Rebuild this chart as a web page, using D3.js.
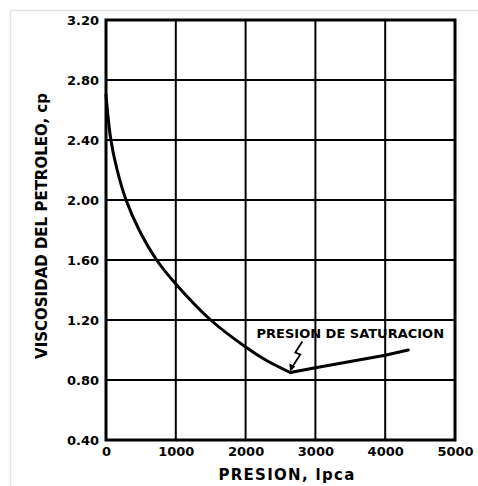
<!DOCTYPE html>
<html>
<head>
<meta charset="utf-8">
<script src="https://cdn.jsdelivr.net/npm/d3@7"></script>
<style>
  html, body { margin: 0; padding: 0; background: #fff; }
  svg { display: block; }
  text { font-family: "DejaVu Sans", sans-serif; font-weight: bold; fill: #000; }
</style>
</head>
<body>
<script>
// ---- data ----
const pressure = [0, 70, 160, 287, 475, 726, 1000, 1500, 2000, 2300, 2640, 3000, 4000, 4330];
const viscosity = [2.70, 2.40, 2.20, 2.00, 1.80, 1.60, 1.44, 1.20, 1.02, 0.93, 0.85, 0.882, 0.965, 1.00];
const xTicks = [0, 1000, 2000, 3000, 4000, 5000];
const yTicks = [0.40, 0.80, 1.20, 1.60, 2.00, 2.40, 2.80, 3.20];
const xTitle = "PRESION, lpca";
const yTitle = "VISCOSIDAD DEL PETROLEO, cp";
const annotation = "PRESION DE SATURACION";

const W = 478, H = 486;
const svg = d3.select("body").append("svg").attr("width", W).attr("height", H);

// light outer frame
svg.append("path").attr("d", `M10.5,${H} V10.5 H${W}`)
  .attr("fill", "none").attr("stroke", "#e4e4e4").attr("stroke-width", 1.5);

const x = d3.scaleLinear().domain([0, 5000]).range([106, 455]);
const y = d3.scaleLinear().domain([0.4, 3.2]).range([440, 20]);

// grid
const grid = svg.append("g");
grid.selectAll("line.v").data(xTicks.slice(1, -1)).join("line")
  .attr("x1", d => x(d)).attr("x2", d => x(d))
  .attr("y1", y(3.2)).attr("y2", y(0.4))
  .attr("stroke", "#000").attr("stroke-width", 2);
grid.selectAll("line.h").data(yTicks.slice(1, -1)).join("line")
  .attr("x1", x(0)).attr("x2", x(5000))
  .attr("y1", d => y(d)).attr("y2", d => y(d))
  .attr("stroke", "#000").attr("stroke-width", 2);

// frame
svg.append("rect")
  .attr("x", x(0)).attr("y", y(3.2))
  .attr("width", x(5000) - x(0)).attr("height", y(0.4) - y(3.2))
  .attr("fill", "none").attr("stroke", "#000").attr("stroke-width", 3);

// axes labels
const yAxis = d3.axisLeft(y).tickValues(yTicks).tickFormat(d3.format(".2f")).tickSize(0).tickPadding(7);
const gy = svg.append("g").attr("transform", `translate(${x(0)},0)`).call(yAxis);
gy.select(".domain").remove();
gy.selectAll("text").style("font-size", "13px").style("font-family", "DejaVu Sans").style("font-weight", "bold");

const xAxis = d3.axisBottom(x).tickValues(xTicks).tickFormat(d3.format("d")).tickSize(0).tickPadding(7);
const gx = svg.append("g").attr("transform", `translate(0,${y(0.4)})`).call(xAxis);
gx.select(".domain").remove();
gx.selectAll("text").style("font-size", "13px").style("font-family", "DejaVu Sans").style("font-weight", "bold");

// titles
svg.append("text").attr("x", 287).attr("y", 480).attr("text-anchor", "middle")
  .style("font-size", "15px").style("letter-spacing", "1.3px").text(xTitle);
svg.append("text").attr("transform", `translate(47,226) rotate(-90)`).attr("text-anchor", "middle")
  .style("font-size", "15px").text(yTitle);

// curve
const pts = pressure.map((p, i) => [p, viscosity[i]]);
const iMin = d3.minIndex(viscosity);
const falling = pts.slice(0, iMin + 1);
const rising = pts.slice(iMin);
const line1 = d3.line().x(d => x(d[0])).y(d => y(d[1])).curve(d3.curveCatmullRom.alpha(0.5));
const line2 = d3.line().x(d => x(d[0])).y(d => y(d[1]));
svg.append("path").attr("d", line1(falling)).attr("fill", "none").attr("stroke", "#000")
  .attr("stroke-width", 3).attr("stroke-linejoin", "round").attr("stroke-linecap", "round");
svg.append("path").attr("d", line2(rising)).attr("fill", "none").attr("stroke", "#000")
  .attr("stroke-width", 3).attr("stroke-linejoin", "round").attr("stroke-linecap", "round");

// annotation
svg.append("text").attr("x", x(3500)).attr("y", y(1.08)).attr("text-anchor", "middle")
  .style("font-size", "13px").text(annotation);
const tipX = x(pressure[iMin]), tipY = y(viscosity[iMin]);
const zig = [[tipX + 12, tipY - 31], [tipX + 5, tipY - 20], [tipX + 10, tipY - 18], [tipX + 1, tipY - 4]];
svg.append("path").attr("d", d3.line()(zig)).attr("fill", "none").attr("stroke", "#000").attr("stroke-width", 1.8);
// arrowhead
const ah = [[tipX, tipY - 1], [tipX - 1, tipY - 9], [tipX + 5, tipY - 6]];
svg.append("path").attr("d", d3.line()(ah) + "Z").attr("fill", "#000");
</script>
</body>
</html>
